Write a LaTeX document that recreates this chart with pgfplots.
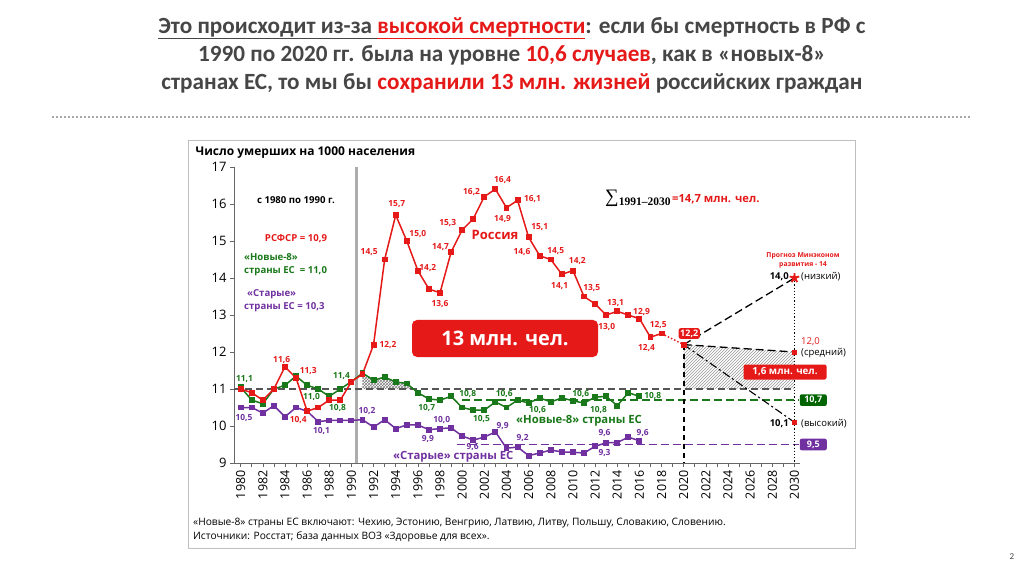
\documentclass[border=0pt]{standalone}
\usepackage{fontspec}
\setmainfont{Carlito}
\newfontfamily\serif{Liberation Serif}
\newfontfamily\os{Open Sans}
\usepackage{pgfplots}
\pgfplotsset{compat=1.18}
\usetikzlibrary{patterns}
\definecolor{tred}{RGB}{230,25,25}
\definecolor{tgreen}{RGB}{25,120,25}
\definecolor{tdgreen}{RGB}{0,100,0}
\definecolor{tpurple}{RGB}{112,48,160}
\definecolor{tgray}{RGB}{70,70,70}
\definecolor{dgray}{RGB}{85,85,85}

\newcommand\lbl{\os\bfseries\fontsize{8.4}{8}\selectfont}
\newcommand\lab[4]{\node[text=#1, font=\lbl, inner sep=0pt] at (axis cs:#2,#3) {#4};}
\newcommand\ann{\os\bfseries\fontsize{9.6}{10}\selectfont}

\begin{document}
\begin{tikzpicture}[x=1pt,y=1pt]
\path[use as bounding box, fill=white] (0,0) rectangle (1024,576);

% title
\node[text=tgray, font=\fontsize{23.2}{28}\selectfont\bfseries, align=center] at (512,521)
  {\underline{Это происходит из-за\ }\textcolor{tred}{\underline{высокой смертности}}: если бы смертность в РФ с\\
   1990 по 2020 гг. была на уровне \textcolor{tred}{10,6 случаев}, как в «новых-8»\\
   странах ЕС, то мы бы \textcolor{tred}{сохранили 13 млн. жизней} российских граждан};
\draw[gray!70, line width=1.8pt, dash pattern=on 1.8pt off 2.2pt] (52,459) -- (970,459);
\node[font=\fontsize{9}{9}\selectfont, text=tgray] at (1012,19) {2};

% chart frame
\draw[gray!50, line width=0.8pt] (188,28) rectangle (855,436);
\node[anchor=west, font=\os\bfseries\fontsize{12}{12}\selectfont] at (192,423) {Число умерших на 1000 населения};

\begin{axis}[
    at={(234pt,113pt)}, anchor=south west,
    scale only axis, width=566pt, height=296pt,
    xmin=1979.4, xmax=2030.5, ymin=9, ymax=17,
    axis x line=bottom, axis y line=left,
    axis line style={-, gray!80!black, line width=0.8pt},
    tick align=outside, tick style={gray!80!black, line width=0.6pt},
    major tick length=4pt, minor tick length=4pt,
    xtick={1980,1982,...,2030}, minor xtick={1981,1983,...,2029},
    ytick={9,...,17},
    xticklabel style={rotate=90, anchor=east, font=\os\fontsize{12.5}{12}\selectfont},
    yticklabel style={font=\os\fontsize{13}{13}\selectfont},
    /pgf/number format/assume math mode=true,
    /pgf/number format/1000 sep={},
    clip=false,
]
% hatched areas
\addplot[draw=none, pattern=crosshatch, pattern color=gray] coordinates {
 (1991,11.0) (1991,11.43) (1992,11.24) (1993,11.32) (1994,11.19) (1995,11.15) (1995.6,11.0)} -- cycle;
\addplot[draw=none, pattern=north east lines, pattern color=gray!80] coordinates {
 (2020,11.0) (2020,12.2) (2030,12.0) (2030,11.0)} -- cycle;

% separator line 1990/1991
\addplot[gray!65, line width=3pt] coordinates {(1990.47,9) (1990.47,17)};

% reference lines
\addplot[dgray, line width=1.6pt, dash pattern=on 7pt off 4pt] coordinates {(1979.4,11.0) (2030,11.0)};
\addplot[tgreen, line width=1.3pt, dash pattern=on 8pt off 4pt] coordinates {(2000,10.7) (2030.4,10.7)};
\addplot[tpurple, line width=1.3pt, dash pattern=on 8pt off 4pt] coordinates {(1999.5,9.5) (2030.4,9.5)};

% forecast lines
\addplot[black, line width=1.3pt, dash pattern=on 8pt off 4pt] coordinates {(2020,12.2) (2030,14.0)};
\addplot[black, line width=1.3pt, dash pattern=on 8pt off 4pt] coordinates {(2020,12.2) (2030,12.0)};
\addplot[black, line width=1.1pt, dash pattern=on 8pt off 3pt on 2pt off 3pt] coordinates {(2020,12.2) (2030,10.1)};
\addplot[black, line width=1.6pt, dash pattern=on 5pt off 4pt] coordinates {(2020,12.2) (2020,9)};
\addplot[black, line width=1.2pt, dash pattern=on 1.2pt off 2pt] coordinates {(2030,14.0) (2030,9)};

% old EU
\addplot[tpurple, line width=1.5pt, mark=square*, mark size=2.2pt] coordinates {
 (1980,10.5) (1981,10.5) (1982,10.35) (1983,10.55) (1984,10.25) (1985,10.5) (1986,10.4)
 (1987,10.12) (1988,10.15) (1989,10.15) (1990,10.15) (1991,10.17) (1992,9.97) (1993,10.17)
 (1994,9.93) (1995,10.03) (1996,10.03) (1997,9.9) (1998,9.93) (1999,9.95) (2000,9.73)
 (2001,9.62) (2002,9.7) (2003,9.84) (2004,9.4) (2005,9.43) (2006,9.2) (2007,9.27)
 (2008,9.35) (2009,9.3) (2010,9.29) (2011,9.27) (2012,9.45) (2013,9.55) (2014,9.55)
 (2015,9.7) (2016,9.6)};

% new-8 EU
\addplot[tgreen, line width=1.5pt, mark=square*, mark size=2.2pt] coordinates {
 (1980,11.05) (1981,10.7) (1982,10.6) (1983,11.0) (1984,11.1) (1985,11.35) (1986,11.1)
 (1987,11.0) (1988,10.8) (1989,11.0) (1990,11.2) (1991,11.43) (1992,11.24) (1993,11.32)
 (1994,11.19) (1995,11.15) (1996,10.9) (1997,10.73) (1998,10.7) (1999,10.8) (2000,10.5)
 (2001,10.43) (2002,10.43) (2003,10.65) (2004,10.5) (2005,10.7) (2006,10.62) (2007,10.76)
 (2008,10.65) (2009,10.76) (2010,10.68) (2011,10.62) (2012,10.78) (2013,10.8) (2014,10.55)
 (2015,10.9) (2016,10.8)};

% Russia
\addplot[tred, line width=1.5pt, mark=square*, mark size=2.2pt] coordinates {
 (1980,11.0) (1981,10.9) (1982,10.7) (1983,11.0) (1984,11.6) (1985,11.3) (1986,10.4)
 (1987,10.5) (1988,10.7) (1989,10.7) (1990,11.2) (1991,11.4) (1992,12.2) (1993,14.5)
 (1994,15.7) (1995,15.0) (1996,14.2) (1997,13.7) (1998,13.6) (1999,14.7) (2000,15.3)
 (2001,15.6) (2002,16.2) (2003,16.4) (2004,15.9) (2005,16.1) (2006,15.1) (2007,14.6)
 (2008,14.5) (2009,14.1) (2010,14.2) (2011,13.5) (2012,13.3) (2013,13.0) (2014,13.1)
 (2015,13.0) (2016,12.9) (2017,12.4) (2018,12.5)};
\addplot[tred, line width=1.5pt, dash pattern=on 1.5pt off 2pt] coordinates {(2018,12.5) (2020,12.2)};
\addplot[only marks, tred, mark=square*, mark size=2.2pt] coordinates {(2020,12.2) (2030,12.0) (2030,10.1)};
\addplot[only marks, tred, mark=star, mark size=5pt, line width=1.8pt] coordinates {(2030,14.0)};
\addplot[only marks, tred, mark=*, mark size=2.5pt] coordinates {(2030,14.0)};

% data labels: Russia
\lab{tred}{1983.7}{11.78}{11,6}
\lab{tred}{1986.1}{11.5}{11,3}
\lab{tred}{1985.2}{10.15}{10,4}
\lab{tred}{1993.3}{12.2}{12,2}
\lab{tred}{1991.6}{14.7}{14,5}
\lab{tred}{1994.1}{16.0}{15,7}
\lab{tred}{1996.0}{15.2}{15,0}
\lab{tred}{1996.9}{14.27}{14,2}
\lab{tred}{1998.0}{13.3}{13,6}
\lab{tred}{1998.05}{14.85}{14,7}
\lab{tred}{1998.7}{15.5}{15,3}
\lab{tred}{2000.85}{16.33}{16,2}
\lab{tred}{2003.65}{16.65}{16,4}
\lab{tred}{2003.65}{15.6}{14,9}
\lab{tred}{2006.35}{16.13}{16,1}
\lab{tred}{2007.0}{15.38}{15,1}
\lab{tred}{2005.4}{14.7}{14,6}
\lab{tred}{2008.45}{14.73}{14,5}
\lab{tred}{2008.8}{13.78}{14,1}
\lab{tred}{2010.4}{14.46}{14,2}
\lab{tred}{2011.7}{13.73}{13,5}
\lab{tred}{2013.05}{12.68}{13,0}
\lab{tred}{2013.85}{13.32}{13,1}
\lab{tred}{2016.2}{13.08}{12,9}
\lab{tred}{2017.7}{12.73}{12,5}
\lab{tred}{2016.65}{12.1}{12,4}
% data labels: new-8
\lab{tgreen}{1980.35}{11.27}{11,1}
\lab{tgreen}{1986.4}{10.78}{11,0}
\lab{tgreen}{1988.75}{10.5}{10,8}
\lab{tgreen}{1989.1}{11.35}{11,4}
\lab{tgreen}{1996.8}{10.5}{10,7}
\lab{tgreen}{2000.5}{10.86}{10,8}
\lab{tgreen}{2001.75}{10.19}{10,5}
\lab{tgreen}{2003.8}{10.86}{10,6}
\lab{tgreen}{2006.8}{10.42}{10,6}
\lab{tgreen}{2010.7}{10.86}{10,6}
\lab{tgreen}{2012.3}{10.42}{10,8}
\lab{tgreen}{2017.2}{10.8}{10,8}
% data labels: old EU
\lab{tpurple}{1980.3}{10.22}{10,5}
\lab{tpurple}{1987.3}{9.87}{10,1}
\lab{tpurple}{1991.4}{10.4}{10,2}
\lab{tpurple}{1996.9}{9.65}{9,9}
\lab{tpurple}{1998.15}{10.16}{10,0}
\lab{tpurple}{2000.95}{9.42}{9,6}
\lab{tpurple}{2003.65}{9.99}{9,9}
\lab{tpurple}{2005.45}{9.68}{9,2}
\lab{tpurple}{2012.85}{9.27}{9,3}
\lab{tpurple}{2012.85}{9.81}{9,6}
\lab{tpurple}{2016.3}{9.81}{9,6}

% boxes
\node[fill=tred, text=white, rounded corners=2pt, inner sep=1.5pt, font=\os\bfseries\fontsize{9}{9}\selectfont] at (axis cs:2020.5,12.5) {12,2};
\node[fill=tdgreen, text=white, rounded corners=2pt, inner sep=2pt, minimum width=27pt, font=\os\bfseries\fontsize{9}{9}\selectfont] at (axis cs:2031.7,10.7) {10,7};
\node[fill=tpurple, text=white, rounded corners=2pt, inner sep=2pt, minimum width=27pt, font=\os\bfseries\fontsize{9}{9}\selectfont] at (axis cs:2031.7,9.5) {9,5};
\end{axis}

% text annotations (pixel coordinates)
\node[font=\ann] at (296,376) {с 1980 по 1990 г.};
\node[font=\ann, text=tred] at (296,337) {РСФСР = 10,9};
\node[anchor=west, font=\ann, text=tgreen, inner sep=0pt] at (244,319) {«Новые-8»};
\node[anchor=west, font=\ann, text=tgreen, inner sep=0pt] at (244,305) {страны ЕС~~= 11,0};
\node[anchor=west, font=\ann, text=tpurple, inner sep=0pt] at (247,282) {«Старые»};
\node[anchor=west, font=\ann, text=tpurple, inner sep=0pt] at (244,269) {страны ЕС = 10,3};

\node[font=\os\bfseries\fontsize{13}{13}\selectfont, text=tred] at (495,341) {Россия};
\node[fill=tred, text=white, rounded corners=5pt, minimum width=186pt, minimum height=37pt, font=\os\bfseries\fontsize{20}{20}\selectfont] at (505,237.5) {13 млн. чел.};
\node[anchor=west, inner sep=0pt] at (605,378) {{\serif\fontsize{19}{19}\selectfont ∑}\raisebox{-3pt}{\serif\bfseries\fontsize{11.5}{12}\selectfont 1991–2030}\,{\os\color{tred}\bfseries\fontsize{11.2}{12}\selectfont =14,7 млн. чел.}};

\node[anchor=west, font=\os\bfseries\fontsize{11.3}{12}\selectfont, text=tgreen, inner sep=0pt] at (516,155) {«Новые-8» страны ЕС};
\node[anchor=west, font=\os\bfseries\fontsize{11.3}{12}\selectfont, text=tpurple, inner sep=0pt] at (393,119) {«Старые» страны ЕС};

% forecast annotations
\node[align=center, text=tred, font=\os\bfseries\fontsize{6.8}{9}\selectfont] at (803,316) {Прогноз Минэконом\\развития - 14};
\node[anchor=east, font=\os\bfseries\fontsize{9.5}{10}\selectfont, inner sep=0pt] at (789,299) {14,0};
\node[anchor=west, font=\os\fontsize{9.5}{10}\selectfont, inner sep=0pt] at (801,299) {(низкий)};
\node[anchor=west, font=\os\fontsize{9.5}{10}\selectfont, text=tred, inner sep=0pt] at (801,234) {12,0};
\node[anchor=west, font=\os\fontsize{9.5}{10}\selectfont, inner sep=0pt] at (801,223) {(средний)};
\node[fill=tred, text=white, rounded corners=2pt, minimum width=83pt, minimum height=15pt, inner sep=1pt, font=\os\bfseries\fontsize{9.8}{10}\selectfont] at (785,204) {1,6 млн. чел.};
\node[anchor=east, font=\os\bfseries\fontsize{9.5}{10}\selectfont, inner sep=0pt] at (789,152) {10,1};
\node[anchor=west, font=\os\fontsize{9.5}{10}\selectfont, inner sep=0pt] at (801,152) {(высокий)};

% footer
\node[anchor=west, font=\os\fontsize{10.2}{10}\selectfont, inner sep=0pt] at (193,53) {«Новые-8» страны ЕС включают: Чехию, Эстонию, Венгрию, Латвию, Литву, Польшу, Словакию, Словению.};
\node[anchor=west, font=\os\fontsize{10.2}{10}\selectfont, inner sep=0pt] at (193,39) {Источники: Росстат; база данных ВОЗ «Здоровье для всех».};
\end{tikzpicture}
\end{document}
